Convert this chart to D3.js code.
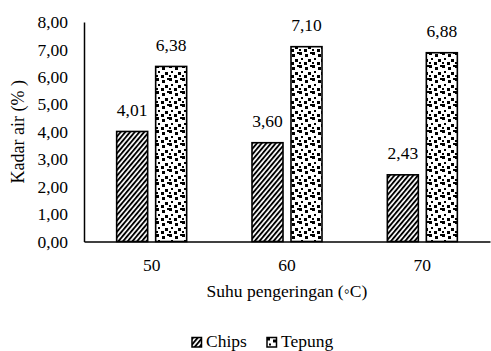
<!DOCTYPE html>
<html>
<head>
<meta charset="utf-8">
<script src="https://cdn.jsdelivr.net/npm/d3@7"></script>
<style>
  body { margin: 0; background: #fff; }
</style>
</head>
<body>
<script>
// chart data
var categories = ["50", "60", "70"];
var seriesNames = ["Chips", "Tepung"];
var chipsValues = [4.01, 3.60, 2.43];
var tepungValues = [6.38, 7.10, 6.88];
var yTicks = [0, 1, 2, 3, 4, 5, 6, 7, 8];

var width = 491,
    height = 351;

var margin = {left: 84, right: 1, top: 22, bottom: 109.5};
var serif = "Liberation Serif";
var fs = 17.5;

var svg = d3.select("body").append("svg")
    .attr("width", width)
    .attr("height", height);

var defs = svg.append("defs");

// diagonal stripes for Chips
var stripes = defs.append("pattern")
    .attr("id", "stripes")
    .attr("patternUnits", "userSpaceOnUse")
    .attr("width", 3.6)
    .attr("height", 10)
    .attr("patternTransform", "rotate(40)");
stripes.append("rect").attr("width", 3.6).attr("height", 10).attr("fill", "#fff");
stripes.append("rect").attr("width", 1.9).attr("height", 10).attr("fill", "#000");

// confetti for Tepung
var confettiDots = [[0, 0, 3], [6, 2, 3], [2, 6, 2], [9, 7, 3], [5, 10, 3], [11, 0, 2], [0, 10, 2]];
var confetti = defs.append("pattern")
    .attr("id", "confetti")
    .attr("patternUnits", "userSpaceOnUse")
    .attr("width", 13)
    .attr("height", 13);
confetti.append("rect").attr("width", 13).attr("height", 13).attr("fill", "#fff");
confetti.selectAll("rect.dot")
    .data(confettiDots)
    .enter().append("rect")
    .attr("class", "dot")
    .attr("x", function(d) { return d[0]; })
    .attr("y", function(d) { return d[1]; })
    .attr("width", function(d) { return d[2]; })
    .attr("height", function(d) { return d[2]; })
    .attr("fill", "#000");

var fills = ["url(#stripes)", "url(#confetti)"];

var x = d3.scaleBand()
    .domain(categories)
    .range([margin.left, width - margin.right]);

var y = d3.scaleLinear()
    .domain([0, 8])
    .range([height - margin.bottom, margin.top]);

var fmt = function(v) { return v.toFixed(2).replace(".", ","); };

// y axis
var yAxis = svg.append("g")
    .attr("transform", "translate(" + margin.left + ",0)")
    .call(d3.axisLeft(y).tickValues(yTicks).tickSize(0).tickPadding(16).tickFormat(fmt));
yAxis.select(".domain").attr("stroke", "#000").attr("stroke-width", 1.5);
yAxis.selectAll("text")
    .attr("fill", "#000")
    .attr("font-family", serif)
    .attr("font-size", fs);

// bars
var barW = 31, gap = 8;
var allSeries = [chipsValues, tepungValues];
allSeries.forEach(function(vals, s) {
  svg.selectAll("rect.s" + s)
    .data(vals)
    .enter().append("rect")
    .attr("class", "s" + s)
    .attr("x", function(d, i) {
      var c = x(categories[i]) + x.bandwidth() / 2;
      return s === 0 ? c - gap / 2 - barW : c + gap / 2;
    })
    .attr("y", function(d) { return y(d); })
    .attr("width", barW)
    .attr("height", function(d) { return y(0) - y(d); })
    .attr("fill", fills[s])
    .attr("stroke", "#000")
    .attr("stroke-width", 1.6);

  svg.selectAll("text.v" + s)
    .data(vals)
    .enter().append("text")
    .attr("class", "v" + s)
    .attr("x", function(d, i) {
      var c = x(categories[i]) + x.bandwidth() / 2;
      return s === 0 ? c - gap / 2 - barW / 2 : c + gap / 2 + barW / 2;
    })
    .attr("y", function(d) { return y(d) - 15.5; })
    .attr("text-anchor", "middle")
    .attr("font-family", serif)
    .attr("font-size", fs)
    .text(fmt);
});

// x axis
var xAxis = svg.append("g")
    .attr("transform", "translate(0," + y(0) + ")")
    .call(d3.axisBottom(x).tickSize(0).tickPadding(17));
xAxis.select(".domain").attr("stroke", "#000").attr("stroke-width", 1.5);
xAxis.selectAll("text")
    .attr("fill", "#000")
    .attr("font-family", serif)
    .attr("font-size", fs);

// axis titles
svg.append("text")
    .attr("transform", "translate(24," + ((margin.top + height - margin.bottom) / 2) + ") rotate(-90)")
    .attr("text-anchor", "middle")
    .attr("font-family", serif)
    .attr("font-size", 18)
    .text("Kadar air (% )");

svg.append("text")
    .attr("x", x(categories[1]) + x.bandwidth() / 2)
    .attr("y", 297)
    .attr("text-anchor", "middle")
    .attr("font-family", serif)
    .attr("font-size", fs)
    .text("Suhu pengeringan (\u25E6C)");

// legend
var legendX = [192, 267];
var legend = svg.selectAll("g.legend")
    .data(seriesNames)
    .enter().append("g")
    .attr("class", "legend")
    .attr("transform", function(d, i) { return "translate(" + legendX[i] + ",337.5)"; });
legend.append("rect")
    .attr("width", 9.5)
    .attr("height", 9.5)
    .attr("fill", function(d, i) { return fills[i]; })
    .attr("stroke", "#000")
    .attr("stroke-width", 1.5);
legend.append("text")
    .attr("x", 14)
    .attr("y", 9.5)
    .attr("font-family", serif)
    .attr("font-size", fs)
    .text(function(d) { return d; });
</script>
</body>
</html>
